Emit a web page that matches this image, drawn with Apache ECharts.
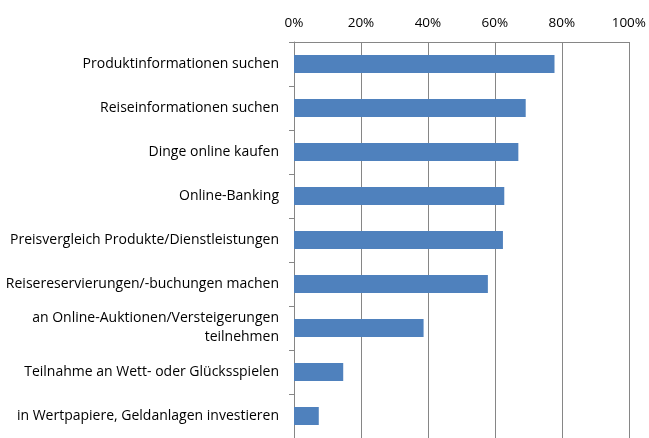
<!DOCTYPE html>
<html>
<head>
<meta charset="utf-8">
<script src="https://cdn.jsdelivr.net/npm/echarts@6/dist/echarts.min.js"></script>
<style>html,body{margin:0;padding:0;background:#fff}#c{width:649px;height:438px}</style>
</head>
<body>
<div id="c"></div>
<script>
const categories = [
  "Produktinformationen suchen",
  "Reiseinformationen suchen",
  "Dinge online kaufen",
  "Online-Banking",
  "Preisvergleich Produkte/Dienstleistungen",
  "Reisereservierungen/-buchungen machen",
  "an Online-Auktionen/Versteigerungen\nteilnehmen",
  "Teilnahme an Wett- oder Glücksspielen",
  "in Wertpapiere, Geldanlagen investieren"
];
const values = [0.778, 0.692, 0.670, 0.628, 0.624, 0.579, 0.387, 0.147, 0.074];
const tickValues = [0, 0.2, 0.4, 0.6, 0.8, 1.0];

const chart = echarts.init(document.getElementById('c'), null, {renderer: 'canvas'});
chart.setOption({
  animation: false,
  grid: {left: 294, right: 20, top: 42, height: 399, containLabel: false},
  xAxis: {
    type: 'value', position: 'top', min: tickValues[0], max: tickValues[tickValues.length-1], interval: 0.2,
    axisLine: {show: true, lineStyle: {color: '#868686', width: 1}},
    axisTick: {show: false},
    splitLine: {show: true, lineStyle: {color: '#868686', width: 1}},
    axisLabel: {formatter: v => Math.round(v*100) + '%', color: '#000', fontFamily: 'Open Sans', fontSize: 13.5, margin: 12}
  },
  yAxis: {
    type: 'category', inverse: true, data: categories,
    axisLine: {show: true, lineStyle: {color: '#868686', width: 1}},
    axisTick: {show: true, length: 5, lineStyle: {color: '#868686'}},
    axisLabel: {color: '#000', fontFamily: 'Open Sans', fontSize: 14, margin: 15, align: 'right', lineHeight: 19}
  },
  series: [{
    type: 'bar', data: values, barWidth: 18,
    itemStyle: {color: '#4F81BD'}
  }]
});
</script>
</body>
</html>
